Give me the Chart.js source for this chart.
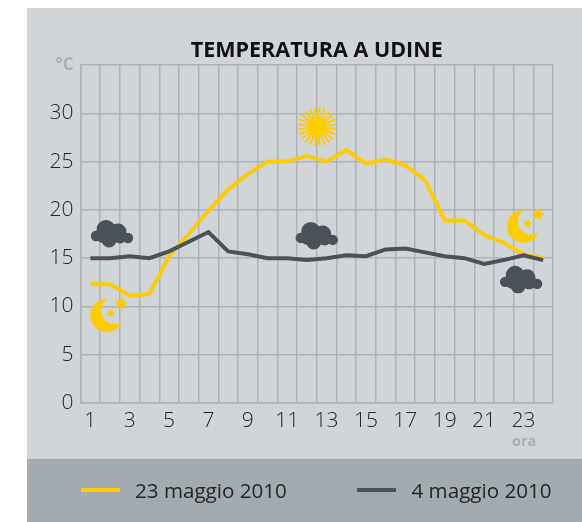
<!DOCTYPE html>
<html>
<head>
<meta charset="utf-8">
<style>html,body{margin:0;padding:0;background:#fff}#wrap{position:relative;width:582px;height:522px}canvas{display:block}</style>
<script src="https://cdn.jsdelivr.net/npm/chart.js@4/dist/chart.umd.min.js"></script>
</head>
<body>
<div id="wrap"><canvas id="c" width="582" height="522"></canvas></div>
<script>
const hours = ['1','2','3','4','5','6','7','8','9','10','11','12','13','14','15','16','17','18','19','20','21','22','23','24'];
const may23 = [12.3,12.3,11.1,11.3,15.2,17.5,19.9,22.1,23.7,25.0,25.0,25.6,25.0,26.2,24.8,25.2,24.6,23.1,18.9,18.9,17.4,16.6,15.4,15.0];
const may4 = [15.0,15.0,15.2,15.0,15.7,16.7,17.7,15.7,15.4,15.0,15.0,14.8,15.0,15.3,15.2,15.9,16.0,15.6,15.2,15.0,14.4,14.8,15.3,14.8];
const seriesNames = ['23 maggio 2010','4 maggio 2010'];
const titleText = 'TEMPERATURA A UDINE';
const yUnit = '°C';
const xUnit = 'ora';
const sunIcons = [[11.53,28.6]];
const moonIcons = [[0.83,9.05],[22.0,18.3]];
const cloudIcons = [[1.05,17.5],[11.45,17.3],[21.83,12.75]];

const FONT = '"Open Sans","Noto Sans",sans-serif';
const YELLOW = '#ffcc00', DARK = '#4a5159', GRID = '#aeb5b8', MUTED = '#aab1b5', INK = '#222628';

function star(ctx,x,y,r){
  ctx.beginPath();
  for(let i=0;i<10;i++){
    const a=-Math.PI/2+i*Math.PI/5+0.25, q=i%2?r*0.5:r;
    ctx.lineTo(x+Math.cos(a)*q,y+Math.sin(a)*q);
  }
  ctx.closePath();ctx.fill();
}
function drawSun(ctx,x,y){
  ctx.fillStyle=YELLOW;ctx.strokeStyle=YELLOW;ctx.lineWidth=2;
  ctx.beginPath();ctx.arc(x,y,10.5,0,Math.PI*2);ctx.fill();
  for(let i=0;i<24;i++){
    const a=i*Math.PI/12+0.13;
    ctx.beginPath();ctx.moveTo(x+Math.cos(a)*9,y+Math.sin(a)*9);
    ctx.lineTo(x+Math.cos(a)*19.5,y+Math.sin(a)*19.5);ctx.stroke();
  }
}
function drawMoon(ctx,x,y){
  ctx.fillStyle=YELLOW;
  ctx.save();
  ctx.beginPath();ctx.rect(x-30,y-30,60,60);ctx.arc(x+8,y-5,13.5,0,Math.PI*2,true);ctx.clip('evenodd');
  ctx.beginPath();ctx.arc(x,y,16.5,0,Math.PI*2);ctx.fill();
  ctx.restore();
  star(ctx,x+14.5,y-12,7);
  star(ctx,x+4,y-2.5,4.8);
}
function drawCloud(ctx,x,y){
  ctx.fillStyle=DARK;
  const parts=[[-5,-4.5,9.5],[7,-2,8.5],[-15,2,5.2],[17,4,5.2],[-2,6,7.5],[9,3,6.5],[-8,2,7]];
  ctx.beginPath();
  parts.forEach(p=>{ctx.moveTo(x+p[0]+p[2],y+p[1]);ctx.arc(x+p[0],y+p[1],p[2],0,Math.PI*2);});
  ctx.fill();
}

const decor = {
  id:'decor',
  beforeDraw(chart){
    const ctx=chart.ctx;
    ctx.save();
    ctx.fillStyle='#d1d5d9';ctx.fillRect(27,8,555,451);
    ctx.fillStyle='#a3abb0';ctx.fillRect(27,459,555,63);
    ctx.restore();
  },
  afterDatasetsDraw(chart){
    const ctx=chart.ctx, sx=chart.scales.x, sy=chart.scales.y;
    const px=v=>sx.left+(sx.right-sx.left)*(v+0.5)/hours.length, py=v=>sy.getPixelForValue(v);
    ctx.save();
    sunIcons.forEach(p=>drawSun(ctx,px(p[0]),py(p[1])));
    moonIcons.forEach(p=>drawMoon(ctx,px(p[0]),py(p[1])));
    cloudIcons.forEach(p=>drawCloud(ctx,px(p[0]),py(p[1])));
    ctx.restore();
  },
  afterDraw(chart){
    const ctx=chart.ctx;
    ctx.save();
    ctx.textBaseline='alphabetic';ctx.textAlign='left';
    ctx.fillStyle=MUTED;ctx.font='bold 14.5px '+FONT;
    ctx.fillText(xUnit,512,445.5);
    ctx.font='20.6px '+FONT;
    const swatch=[81,357], labelX=[135,411.5];
    chart.data.datasets.forEach(d=>{
      const i=seriesNames.indexOf(d.label);
      ctx.fillStyle=d.borderColor;ctx.fillRect(swatch[i],488,39,4);
      ctx.fillStyle=INK;ctx.fillText(d.label,labelX[i],498);
    });
    ctx.restore();
  }
};
const isUnit = c => !!(c.tick && c.tick.value===35);

new Chart(document.getElementById('c'),{
  type:'line',
  data:{labels:hours,datasets:[
    {label:seriesNames[0],data:may23,borderColor:YELLOW,backgroundColor:YELLOW,borderWidth:4,pointRadius:0,tension:0,order:2},
    {label:seriesNames[1],data:may4,borderColor:DARK,backgroundColor:DARK,borderWidth:4,pointRadius:0,tension:0,order:1}
  ]},
  options:{
    responsive:false,animation:false,devicePixelRatio:1,
    layout:{padding:{left:0,right:29,top:0,bottom:0}},
    plugins:{
      legend:{display:false},tooltip:{enabled:false},
      title:{display:true,fullSize:false,text:titleText,color:'#111',font:{family:FONT,size:21.5,weight:'bold'},padding:{top:37.5,bottom:1.7}}
    },
    scales:{
      x:{
        type:'category',offset:true,
        afterFit(s){s.height=119;},
        border:{color:GRID,width:1.5},
        grid:{color:GRID,lineWidth:1.5,drawTicks:false,offset:true},
        ticks:{autoSkip:false,maxRotation:0,padding:5,color:INK,font:{family:FONT,size:21,weight:300},
          callback(v,i){return i%2===0?this.getLabelForValue(v):'';}}
      },
      y:{
        min:0,max:35,
        afterFit(s){s.width=80.5;},
        border:{color:GRID,width:1.5},
        grid:{color:GRID,lineWidth:1.5,drawTicks:false},
        ticks:{stepSize:5,padding:7,
          color:c=>isUnit(c)?MUTED:INK,
          font:c=>isUnit(c)?{family:FONT,size:17,weight:'bold'}:{family:FONT,size:21,weight:300},
          callback(v){return v===35?yUnit:v;}}
      }
    }
  },
  plugins:[decor]
});
</script>
</body>
</html>
